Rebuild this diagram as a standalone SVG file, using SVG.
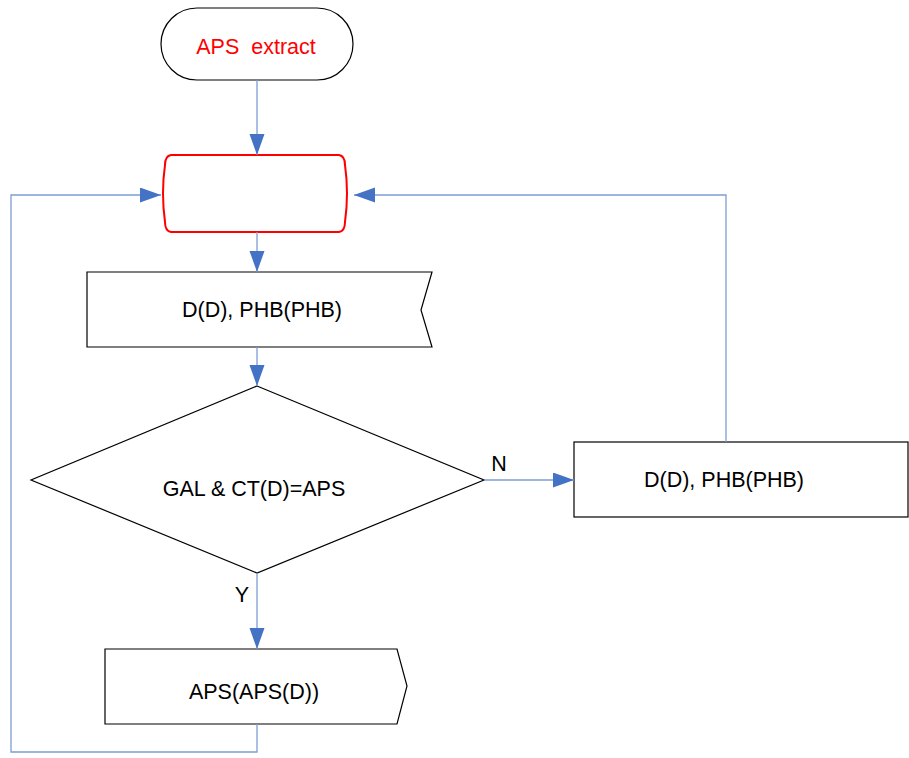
<svg xmlns="http://www.w3.org/2000/svg" width="909" height="758" viewBox="0 0 909 758">
<style>
.shape{fill:#fff;stroke:#000;stroke-width:1.2}
.loop{fill:#fff;stroke:#ff0000;stroke-width:2}
.txt{font-family:"Liberation Sans",Arial,sans-serif;font-size:21.5px;fill:#000;text-anchor:middle}
.red{fill:#ff0000}
.conn{fill:none;stroke:#7d9dd5;stroke-width:1.3}
</style>
<defs>
<marker id="ah" markerUnits="userSpaceOnUse" markerWidth="22" markerHeight="16" refX="21" refY="7.5" orient="auto">
<path d="M0,0 L21,7.5 L0,15 Z" fill="#4472c4"/>
</marker>
</defs>
<g id="start">
<rect class="shape" x="161" y="8" width="192" height="72" rx="36" ry="36"/>
<text class="txt red" x="256" y="54" xml:space="preserve">APS  extract</text>
</g>
<g id="loop">
<path class="loop" d="M171,155 L339,155 Q345,156 345,165 Q349,193 345,222 Q345,231 339,232 L171,232 Q165,231 165,222 Q161,193 165,165 Q165,156 171,155 Z"/>
</g>
<g id="read1">
<path class="shape" d="M87,272 L432,272 L421,310 L432,347 L87,347 Z"/>
<text class="txt" x="262" y="317">D(D), PHB(PHB)</text>
</g>
<g id="decision">
<path class="shape" d="M257,386 L484,480 L257,573 L31,480 Z"/>
<text class="txt" x="254" y="496">GAL &amp; CT(D)=APS</text>
</g>
<g id="read2">
<rect class="shape" x="574" y="442" width="334" height="75"/>
<text class="txt" x="724" y="487">D(D), PHB(PHB)</text>
</g>
<g id="output">
<path class="shape" d="M105,649 L397,649 L407,686 L397,724 L105,724 Z"/>
<text class="txt" x="254" y="699">APS(APS(D))</text>
</g>
<g id="connectors">
<path class="conn" d="M257,80 L257,155" marker-end="url(#ah)"/>
<path class="conn" d="M257,232 L257,272" marker-end="url(#ah)"/>
<path class="conn" d="M257,347 L257,386" marker-end="url(#ah)"/>
<path class="conn" d="M484,480 L574,480" marker-end="url(#ah)"/>
<path class="conn" d="M257,573 L257,649" marker-end="url(#ah)"/>
<path class="conn" d="M726,442 L726,195 L354,195" marker-end="url(#ah)"/>
<path class="conn" d="M257,724 L257,752 L11,752 L11,195 L161,195" marker-end="url(#ah)"/>
<text class="txt" x="499" y="471">N</text>
<text class="txt" x="242" y="602">Y</text>
</g>
</svg>
